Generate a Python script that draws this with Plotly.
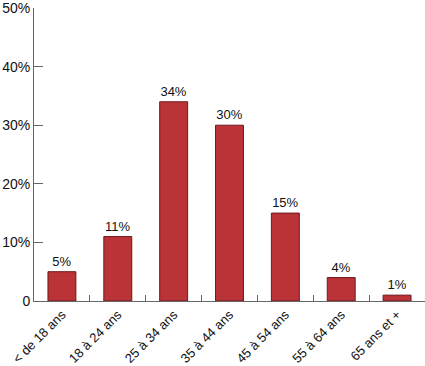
import plotly.graph_objects as go

categories = ["< de 18 ans", "18 à 24 ans", "25 à 34 ans", "35 à 44 ans",
              "45 à 54 ans", "55 à 64 ans", "65 ans et +"]
values = [5, 11, 34, 30, 15, 4, 1]
y_ticks = [0, 10, 20, 30, 40, 50]
y_tick_labels = ["0", "10%", "20%", "30%", "40%", "50%"]

fig = go.Figure(go.Bar(
    x=categories, y=values,
    text=[f"{v}%" for v in values], textposition="outside",
    textfont=dict(size=13, color="#111"),
    cliponaxis=False,
    marker=dict(color="#BA3337", line=dict(color="#6e1a1c", width=1)),
    width=0.5,
))
fig.update_layout(
    width=425, height=366,
    margin=dict(l=34, r=0, t=8, b=65, autoexpand=False),
    paper_bgcolor="white", plot_bgcolor="white",
    font=dict(family="Liberation Sans, Arial, sans-serif", size=14, color="#111"),
    showlegend=False,
)
fig.update_xaxes(
    showline=True, linecolor="#666", linewidth=1, automargin=False,
    ticks="inside", ticklen=6, tickcolor="#666", tickson="boundaries",
    tickangle=-45, tickfont=dict(size=13), showgrid=False,
)
fig.update_yaxes(
    range=[0, 50], tickvals=y_ticks, ticktext=y_tick_labels, automargin=False,
    showline=True, linecolor="#666", linewidth=1, ticklabeloverflow="allow",
    ticks="inside", ticklen=9, tickcolor="#666",
    showgrid=False, zeroline=False, tickfont=dict(size=14),
)
fig.write_html("out.html", config={"displayModeBar": False},
               post_script="document.body.style.margin='0';document.body.style.overflow='hidden';")
